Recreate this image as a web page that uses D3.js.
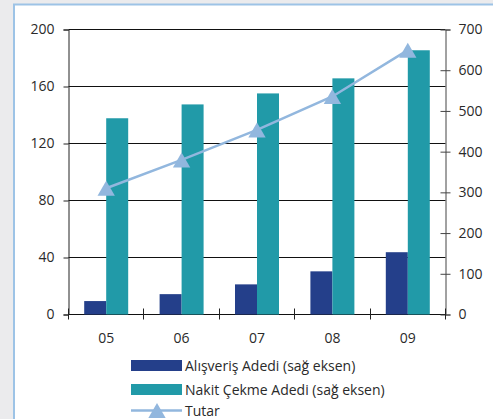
<!DOCTYPE html>
<html>
<head>
<meta charset="utf-8">
<script src="https://cdn.jsdelivr.net/npm/d3@7"></script>
<style>
  body { margin: 0; background: #ebebed; }
  text { font-family: "Open Sans", Lato, sans-serif; fill: #2a2a2a; }
</style>
</head>
<body>
<svg id="chart"></svg>
<script>
var width = 493,
    height = 419;

// data
const years = ["05", "06", "07", "08", "09"];
const alisveris = [33, 50, 74, 106, 153];   // right axis
const nakit = [482, 516, 543, 580, 649];    // right axis
const tutar = [88.6, 108.5, 129.5, 153, 185.5]; // left axis
const leftTicks = [0, 40, 80, 120, 160, 200];
const rightTicks = [0, 100, 200, 300, 400, 500, 600, 700];
const seriesNames = ["Alışveriş Adedi (sağ eksen)", "Nakit Çekme Adedi (sağ eksen)", "Tutar"];
const colors = ["#243f8a", "#219aa8", "#92b7de"];

const svg = d3.select("#chart")
  .attr("width", width)
  .attr("height", height);

svg.append("rect")
  .attr("width", width).attr("height", height)
  .attr("fill", "#ebebed");

// panel
svg.append("rect")
  .attr("x", 14).attr("y", 4.5)
  .attr("width", 520).attr("height", 440)
  .attr("fill", "#fff")
  .attr("stroke", "#9dc3e6")
  .attr("stroke-width", 2);

var pLeft = 68.5, pRight = 445.5, pTop = 29.5, pBottom = 314.5;
var fs = 14;

var x = d3.scaleBand().domain(years).range([pLeft, pRight]);
var xInner = d3.scaleBand().domain([0, 1]).range([0, x.bandwidth()]).paddingOuter(0.714);
var yL = d3.scaleLinear().domain([0, 200]).range([pBottom, pTop]);
var yR = d3.scaleLinear().domain([0, 700]).range([pBottom, pTop]);

// gridlines
svg.append("g")
  .selectAll("line")
  .data(leftTicks)
  .enter().append("line")
  .attr("x1", pLeft).attr("x2", pRight)
  .attr("y1", d => Math.round(yL(d) - 0.5) + 0.5)
  .attr("y2", d => Math.round(yL(d) - 0.5) + 0.5)
  .attr("stroke", "#111")
  .attr("stroke-width", 1);

// bars
var barData = [];
years.forEach((y, i) => {
  barData.push({ year: y, k: 0, v: alisveris[i] });
  barData.push({ year: y, k: 1, v: nakit[i] });
});

svg.append("g")
  .selectAll("rect")
  .data(barData)
  .enter().append("rect")
  .attr("x", d => x(d.year) + xInner(d.k))
  .attr("width", xInner.bandwidth())
  .attr("y", d => yR(d.v))
  .attr("height", d => pBottom - yR(d.v))
  .attr("fill", d => colors[d.k]);

// left axis
var axL = svg.append("g")
  .attr("transform", "translate(" + pLeft + ",0)")
  .call(d3.axisLeft(yL).tickValues(leftTicks).tickSize(5).tickPadding(9));
axL.select(".domain").attr("stroke", "#222");
axL.selectAll(".tick line").attr("stroke", "#222");
axL.selectAll(".tick text").attr("font-size", fs).attr("fill", "#2a2a2a");

// right axis
var axR = svg.append("g")
  .attr("transform", "translate(" + pRight + ",0)")
  .call(d3.axisRight(yR).tickValues(rightTicks).tickSize(5).tickPadding(8));
axR.select(".domain").attr("stroke", "#444");
axR.selectAll(".tick line").attr("stroke", "#444").attr("x1", -5);
axR.selectAll(".tick text").attr("font-size", fs).attr("fill", "#2a2a2a");
svg.selectAll("g").attr("font-family", null);

// x axis with ticks between categories
var bounds = years.map(d => x(d)).concat([pRight]);
svg.append("g")
  .selectAll("line")
  .data(bounds)
  .enter().append("line")
  .attr("x1", d => Math.round(d - 0.5) + 0.5).attr("x2", d => Math.round(d - 0.5) + 0.5)
  .attr("y1", pBottom - 6).attr("y2", pBottom + 5)
  .attr("stroke", "#222");

svg.append("g")
  .selectAll("text")
  .data(years)
  .enter().append("text")
  .attr("x", d => x(d) + x.bandwidth() / 2)
  .attr("y", 343)
  .attr("text-anchor", "middle")
  .attr("font-size", fs)
  .text(d => d);

// Tutar line
var line = d3.line()
  .x((d, i) => x(years[i]) + x.bandwidth() / 2)
  .y(d => yL(d));

svg.append("path")
  .datum(tutar)
  .attr("d", line)
  .attr("fill", "none")
  .attr("stroke", colors[2])
  .attr("stroke-width", 2.5);

var tri = d3.symbol().type(d3.symbolTriangle).size(130);
var triOff = Math.sqrt(130 / (Math.sqrt(3) * 3)) / 2;

svg.append("g")
  .selectAll("path")
  .data(tutar)
  .enter().append("path")
  .attr("d", tri)
  .attr("transform", (d, i) => "translate(" + (x(years[i]) + x.bandwidth() / 2) + "," + (yL(d) + triOff) + ")")
  .attr("fill", colors[2]);

// legend
var lg = svg.append("g").attr("transform", "translate(131,0)");
var rows = [365.5, 389.5, 410.5];

lg.append("rect").attr("x", 0).attr("y", 360).attr("width", 51).attr("height", 11).attr("fill", colors[0]);
lg.append("rect").attr("x", 0).attr("y", 384).attr("width", 51).attr("height", 11).attr("fill", colors[1]);
lg.append("line").attr("x1", 0).attr("x2", 51).attr("y1", 410.5).attr("y2", 410.5)
  .attr("stroke", colors[2]).attr("stroke-width", 2.5);
lg.append("path").attr("d", tri).attr("transform", "translate(26," + (410.5 + triOff) + ")").attr("fill", colors[2]);

lg.selectAll("text.lbl")
  .data(seriesNames)
  .enter().append("text")
  .attr("class", "lbl")
  .attr("x", 54)
  .attr("y", (d, i) => rows[i] + 5)
  .attr("font-size", fs)
  .text(d => d);
</script>
</body>
</html>
